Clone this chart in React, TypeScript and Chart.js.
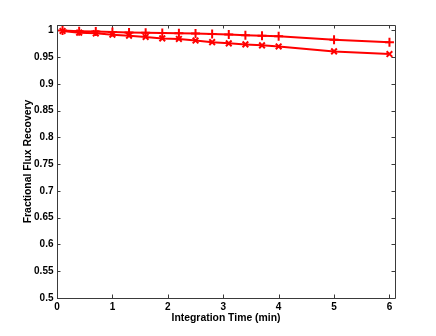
import React, { useEffect, useRef } from "react";
import { Chart, registerables } from "chart.js";

Chart.register(...registerables);

// ---- data ----
const times = [0.1, 0.4, 0.7, 1.0, 1.3, 1.6, 1.9, 2.2, 2.5, 2.8, 3.1, 3.4, 3.7, 4.0, 5, 6];
const recoveryPlus = [0.9995, 0.9985, 0.998, 0.997, 0.9962, 0.9955, 0.995, 0.9945, 0.994, 0.9932, 0.9922, 0.991, 0.9898, 0.9888, 0.9825, 0.978];
const recoveryCross = [0.9989, 0.9957, 0.9944, 0.992, 0.99, 0.9876, 0.985, 0.984, 0.981, 0.978, 0.9757, 0.9738, 0.972, 0.97, 0.9607, 0.9558];
const xTickValues = [0, 1, 2, 3, 4, 5, 6];
const yTickValues = [0.5, 0.55, 0.6, 0.65, 0.7, 0.75, 0.8, 0.85, 0.9, 0.95, 1];
const xAxisTitle = "Integration Time (min)";
const yAxisTitle = "Fractional Flux Recovery";
const xRange = [0, 6.1];
const yRange = [0.5, 1.01];

const FONT = "'Liberation Sans', Arial, Helvetica, sans-serif";
const AXIS_COLOR = "#3a3a3a";
const RED = "#ff0000";

const boxPlugin = {
  id: "matlabBox",
  beforeDatasetsDraw(chart: any) {
    const { ctx, chartArea } = chart;
    const { left, right, top, bottom } = chartArea;
    const xs = chart.scales.x;
    const ys = chart.scales.y;
    const tl = 3.5;
    ctx.save();
    ctx.strokeStyle = AXIS_COLOR;
    ctx.lineWidth = 1;
    ctx.beginPath();
    ctx.rect(Math.round(left) + 0.5, Math.round(top) + 0.5, Math.round(right - left), Math.round(bottom - top));
    ctx.stroke();
    ctx.beginPath();
    xTickValues.forEach((v) => {
      const px = Math.round(xs.getPixelForValue(v)) + 0.5;
      ctx.moveTo(px, bottom);
      ctx.lineTo(px, bottom - tl);
      ctx.moveTo(px, top);
      ctx.lineTo(px, top + tl);
    });
    yTickValues.forEach((v) => {
      const py = Math.round(ys.getPixelForValue(v)) + 0.5;
      ctx.moveTo(left, py);
      ctx.lineTo(left + tl, py);
      ctx.moveTo(right, py);
      ctx.lineTo(right - tl, py);
    });
    ctx.stroke();
    ctx.restore();
  },
};

export default function App() {
  const ref = useRef<HTMLCanvasElement | null>(null);

  useEffect(() => {
    if (!ref.current) return;
    const chart = new Chart(ref.current, {
      type: "line",
      data: {
        datasets: [
          {
            label: "plus",
            data: times.map((t, i) => ({ x: t, y: recoveryPlus[i] })),
            borderColor: RED,
            backgroundColor: RED,
            borderWidth: 2,
            pointStyle: "cross",
            pointRadius: 4.5,
            pointBorderWidth: 2,
            pointBorderColor: RED,
            tension: 0,
            fill: false,
          },
          {
            label: "cross",
            data: times.map((t, i) => ({ x: t, y: recoveryCross[i] })),
            borderColor: RED,
            backgroundColor: RED,
            borderWidth: 2,
            pointStyle: "crossRot",
            pointRadius: 4,
            pointBorderWidth: 2,
            pointBorderColor: RED,
            tension: 0,
            fill: false,
          },
        ],
      },
      options: {
        responsive: false,
        animation: false,
        events: [],
        layout: { padding: { left: 0, right: 41, top: 25, bottom: 0 } },
        plugins: { legend: { display: false }, tooltip: { enabled: false } },
        scales: {
          x: {
            type: "linear",
            min: xRange[0],
            max: xRange[1],
            grid: { display: false, drawTicks: false },
            border: { display: false },
            afterBuildTicks: (s: any) => {
              s.ticks = xTickValues.map((v) => ({ value: v }));
            },
            afterFit: (s: any) => {
              s.height = 38;
            },
            ticks: {
              padding: 3.5,
              color: "#000",
              font: { family: FONT, size: 10, weight: "bold" },
              maxRotation: 0,
              callback: (v: any) => String(Number(v)),
            },
            title: {
              display: true,
              text: xAxisTitle,
              color: "#000",
              font: { family: FONT, size: 10.4, weight: "bold" },
              padding: { top: 0, bottom: 11.5 },
            },
          },
          y: {
            type: "linear",
            min: yRange[0],
            max: yRange[1],
            grid: { display: false, drawTicks: false },
            border: { display: false },
            afterBuildTicks: (s: any) => {
              s.ticks = yTickValues.map((v) => ({ value: v }));
            },
            afterFit: (s: any) => {
              s.width = 57;
            },
            ticks: {
              padding: 3.5,
              color: "#000",
              font: { family: FONT, size: 10, weight: "bold" },
              callback: (v: any) => String(Number(v)),
            },
            title: {
              display: true,
              text: yAxisTitle,
              color: "#000",
              font: { family: FONT, size: 10.4, weight: "bold" },
              padding: { top: 21.5, bottom: 0 },
            },
          },
        },
      },
      plugins: [boxPlugin],
    } as any);
    return () => chart.destroy();
  }, []);

  return (
    <div style={{ position: "fixed", left: 0, top: 0, width: 436, height: 336, background: "#fff" }}>
      <canvas ref={ref} width={436} height={336} style={{ width: 436, height: 336, display: "block" }} />
    </div>
  );
}
